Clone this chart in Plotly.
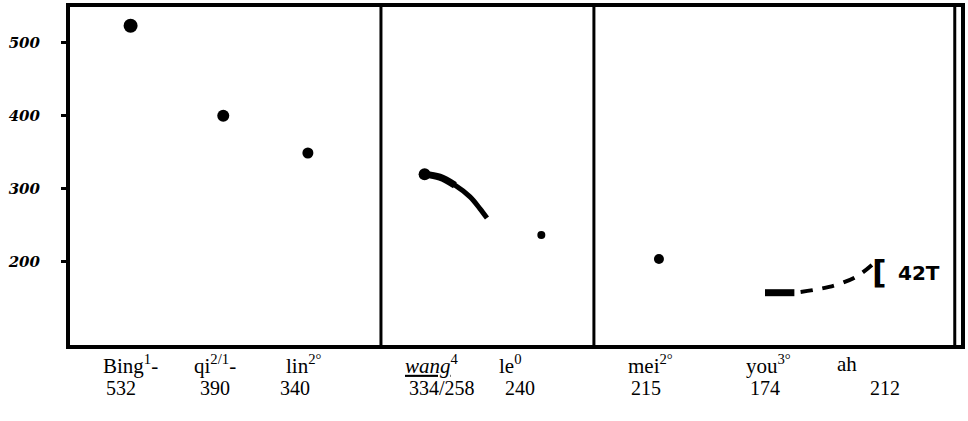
import plotly.graph_objects as go

# ---- data (time in arbitrary units 0-100, F0 in Hz) ----
syllables = ["Bing<sup>1</sup>-", "qi<sup>2/1</sup>-", "lin<sup>2°</sup>",
             "<i><u>wang</u></i><sup>4</sup>", "le<sup>0</sup>", "mei<sup>2°</sup>",
             "you<sup>3°</sup>", "ah"]
f0_labels = ["532", "390", "340", "334/258", "240", "215", "174", "212"]
syl_x = [6.8, 16.3, 26.3, 40.6, 49.4, 65.1, 78.4, 87.2]
num_x = [5.7, 16.3, 25.3, 41.7, 50.5, 64.7, 78.0, 91.5]

dot_t = [6.8, 17.2, 26.7, 52.9, 66.1]
dot_f0 = [523, 400, 349, 237, 204]
dot_size = [14, 12, 11, 8, 10]

wang_t = [39.8, 41.5, 43.2, 44.9, 46.0, 46.8]
wang_f0 = [320, 316, 305, 289, 273, 260]

you_t = [78.0, 81.3]
you_f0 = [158, 158]
you_dash_t = [82.0, 83.6, 85.2, 86.8, 88.4, 90.0]
you_dash_f0 = [159, 162, 166, 172, 181, 196]

dividers = [34.9, 58.8, 99.3]
yticks = [200, 300, 400, 500]
note_text = "42T"

fig = go.Figure()
fig.add_trace(go.Scatter(x=dot_t, y=dot_f0, mode="markers", opacity=1,
                         marker=dict(color="#000000", opacity=1, size=dot_size,
                                     line=dict(width=0))))
fig.add_trace(go.Scatter(x=wang_t[:3], y=wang_f0[:3], mode="lines",
                         line=dict(color="black", width=7, shape="spline")))
fig.add_trace(go.Scatter(x=wang_t, y=wang_f0, mode="lines",
                         line=dict(color="black", width=5, shape="spline")))
fig.add_trace(go.Scatter(x=wang_t[:1], y=wang_f0[:1], mode="markers", opacity=1,
                         marker=dict(color="#000000", opacity=1, size=12, line=dict(width=0))))
fig.add_trace(go.Scatter(x=you_t, y=you_f0, mode="lines",
                         line=dict(color="black", width=7)))
fig.add_trace(go.Scatter(x=you_dash_t, y=you_dash_f0, mode="lines",
                         line=dict(color="black", width=4, dash="12px,10px", shape="spline")))

for d in dividers:
    fig.add_shape(type="line", x0=d, x1=d, y0=0, y1=1, xref="x", yref="paper",
                  line=dict(color="black", width=3))

serif = "Liberation Serif"
for xs, s in zip(syl_x, syllables):
    fig.add_annotation(x=xs, y=0, xref="x", yref="paper", text=s, showarrow=False,
                       yanchor="middle", yshift=-19, borderpad=0,
                       font=dict(family=serif, size=21, color="black"))
for xs, s in zip(num_x, f0_labels):
    fig.add_annotation(x=xs, y=0, xref="x", yref="paper", text=s, showarrow=False,
                       yanchor="middle", yshift=-43, borderpad=0,
                       font=dict(family=serif, size=20, color="black"))

fig.add_annotation(x=you_dash_t[-1] + 0.8, y=186, xref="x", yref="y", text="<b>[</b>",
                   showarrow=False, font=dict(family="DejaVu Sans", size=32, color="black"))
fig.add_annotation(x=95.3, y=185, xref="x", yref="y", text="<b>" + note_text + "</b>",
                   showarrow=False, font=dict(family="DejaVu Sans", size=20, color="black"))

fig.update_layout(
    width=968, height=421, margin=dict(l=70, r=5, t=3, b=76),
    paper_bgcolor="white", plot_bgcolor="white", showlegend=False,
    xaxis=dict(range=[0, 100], showgrid=False, zeroline=False, showticklabels=False,
               ticks="", showline=True, mirror=True, linecolor="black", linewidth=4),
    yaxis=dict(range=[86.5, 548.6], showgrid=False, zeroline=False,
               tickvals=yticks, ticktext=["<b><i>%d</i></b>" % v for v in yticks],
               ticks="outside", ticklen=5, tickwidth=3, tickcolor="black",
               tickfont=dict(family="DejaVu Serif", size=15, color="black"),
               ticklabelstandoff=18,
               showline=True, mirror=True, linecolor="black", linewidth=4),
)
fig.write_html("out.html")
